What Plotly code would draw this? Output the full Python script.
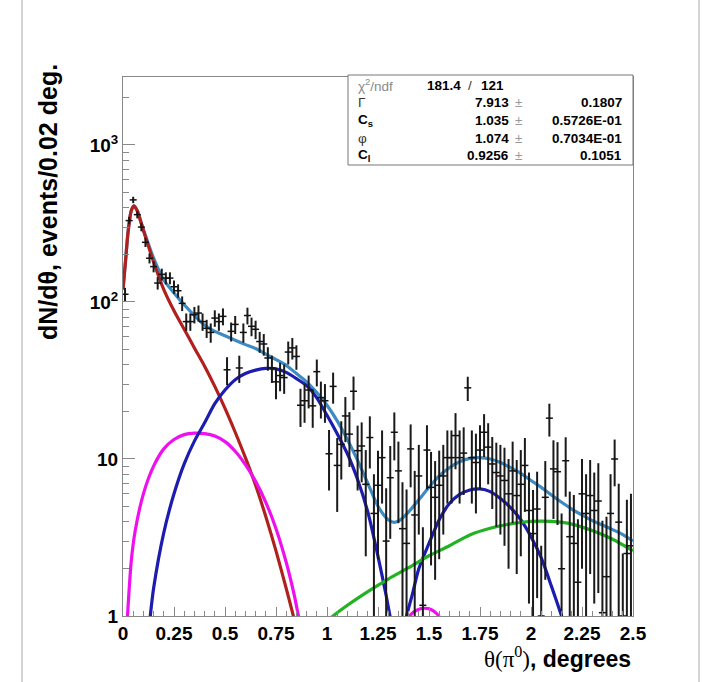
import plotly.graph_objects as go

# ---------------- data ----------------
bin_width = 0.02
bin_centers = [round(0.01 + bin_width * i, 2) for i in range(125)]

counts = [
    112, 330, 447, 360, 300, 240, 190, 168, 132, 150,
    142, 142, 125, 118, 98, 75, 75, 83, 85, 75,
    68, 64, 79, 75, 81, 37, 65, 72, 38, 64,
    82, 70, 67, 56, 54, 44, 38, 31, 34, 33,
    48, 51, 45, 22, 23.5, 27.5, 21.8, 36, 24.6, 23.5,
    10.8, 29, 9.1, 12.4, 18.8, 14.4, 27, 11.3, 12.1, 6.9,
    13.7, 4.5, 6.8, 10.2, 3.0, 7.6, 14.8, 8.4, 3.6, 2.9,
    11.6, 4.4, 7.8, 1.17, 11.4, 6.6, 5.7, 6.8, 7.8, 10.2,
    10.2, 14.1, 10.2, 10.9, 28.4, 10.2, 9.5, 11.4, 14.8, 11.9,
    9.3, 8.2, 7.8, 7.3, 6.0, 8.4, 5.85, 6.9, 9.1, 4.7,
    3.35, 4.8, 1.0, 5.7, 18.2, 8.65, 8.3, 2.0, 9.75, 3.2,
    2.9, 1.64, 6.0, 4.5, 5.85, 4.7, 5.4, 1.05, 1.78, 4.5,
    10.0, 3.96, 1.0, 2.5, 2.8,
]

errs = [
    11, 18, 21, 19, 18, 16, 14, 13.5, 12, 13,
    12.5, 12.5, 12, 11.5, 10.5, 9.5, 9.5, 10, 10, 9.5,
    9, 9, 9.5, 9.5, 10, 7.5, 9, 9.5, 7.5, 9,
    10, 9.5, 9, 8.5, 8.5, 7.5, 7.5, 7, 7, 7,
    8, 8, 8, 6, 6.5, 6.5, 6, 7, 6.5, 6.5,
    4.5, 6.5, 4.5, 5, 6, 5.5, 6.5, 5, 5, 4.5,
    5, 3.5, 4.5, 5, 3.5, 4.5, 5, 4.5, 3.5, 3.5,
    5, 4, 4.5, 2.5, 5, 4.5, 4, 4.5, 4.5, 5,
    5, 5.5, 5, 5, 5, 5, 5, 5, 4.5, 5,
    4.5, 4.5, 4.5, 4.5, 4, 4.5, 4, 4.5, 4.5, 3.5,
    3, 3.5, 1.8, 4, 4.3, 4.5, 4.5, 2.5, 4, 3,
    3, 2.5, 4, 3.5, 4, 3.5, 4, 3, 2.5, 3.5,
    3.3, 3, 1.5, 3, 3.2,
]

# total fit (light blue)
total_x = [0.0, 0.012, 0.025, 0.04, 0.054, 0.07, 0.1, 0.15, 0.2, 0.25, 0.3,
           0.35, 0.4, 0.45, 0.5, 0.55, 0.6, 0.65, 0.7, 0.75, 0.8, 0.85, 0.9,
           0.95, 1.0, 1.05, 1.1, 1.15, 1.2, 1.25, 1.3, 1.33, 1.36, 1.4, 1.45,
           1.5, 1.55, 1.6, 1.65, 1.7, 1.75, 1.8, 1.85, 1.9, 1.95, 2.0, 2.05,
           2.1, 2.15, 2.2, 2.25, 2.3, 2.35, 2.4, 2.45, 2.5]
total_y = [120, 180, 280, 380, 410, 382, 290, 190, 138, 114, 96,
           82, 71, 65, 61, 57, 53.5, 50.5, 46.5, 43, 39.5, 35, 31,
           26.5, 22, 17.5, 13.3, 9.8, 7.0, 5.0, 4.1, 3.95, 4.1, 4.6, 5.5,
           6.6, 7.8, 8.8, 9.6, 10.1, 10.2, 10.0, 9.5, 8.8, 8.1, 7.3, 6.6,
           5.9, 5.3, 4.8, 4.4, 4.05, 3.8, 3.55, 3.3, 3.0]

# Coulomb / Primakoff-like component (red)
red_x = [0.0, 0.012, 0.025, 0.04, 0.054, 0.07, 0.1, 0.15, 0.2, 0.25, 0.3,
         0.35, 0.4, 0.45, 0.5, 0.55, 0.6, 0.65, 0.7, 0.75, 0.8, 0.835, 0.86]
red_y = [120, 180, 280, 380, 410, 380, 285, 180, 120, 88, 67,
         51, 39, 29, 21, 14.8, 10.2, 6.8, 4.3, 2.6, 1.5, 1.0, 0.72]

# interference component (magenta)
mag_x = [0.02, 0.04, 0.06, 0.1, 0.15, 0.2, 0.25, 0.3, 0.35, 0.4, 0.45, 0.5,
         0.55, 0.6, 0.65, 0.7, 0.75, 0.8, 0.84, 0.86, 0.875, None,
         1.39, 1.41, 1.44, 1.475, 1.51, 1.54, 1.565]
mag_y = [0.9, 2.2, 3.5, 6.0, 9.0, 11.6, 13.3, 14.3, 14.6, 14.5, 14.0, 12.9,
         11.2, 9.2, 7.2, 5.3, 3.6, 2.2, 1.35, 1.0, 0.8, None,
         0.9, 1.02, 1.09, 1.12, 1.1, 1.03, 0.92]

# nuclear coherent component (dark blue)
blue_x = [0.13, 0.15, 0.2, 0.25, 0.3, 0.35, 0.4, 0.45, 0.5, 0.55, 0.6, 0.65,
          0.7, 0.75, 0.8, 0.85, 0.9, 0.95, 1.0, 1.05, 1.1, 1.15, 1.2, 1.25,
          1.29, 1.31, 1.33, None, 1.37, 1.39, 1.42, 1.45, 1.5, 1.55, 1.6,
          1.65, 1.7, 1.75, 1.8, 1.85, 1.9, 1.95, 2.0, 2.05, 2.1, 2.15, 2.18]
blue_y = [0.9, 1.5, 3.4, 6.0, 9.3, 13.0, 17.0, 22.5, 27.5, 32, 35, 36.8,
          37.8, 37.5, 35.6, 32.5, 29.3, 24.5, 19.0, 14.5, 10.8, 7.4, 4.6, 2.4,
          1.35, 0.98, 0.7, None, 0.75, 1.0, 1.4, 2.0, 2.9, 4.1, 5.2,
          5.95, 6.35, 6.45, 6.2, 5.6, 4.9, 4.1, 3.2, 2.35, 1.55, 1.0, 0.75]

# incoherent component (green)
green_x = [1.0, 1.03, 1.1, 1.2, 1.3, 1.4, 1.5, 1.6, 1.7, 1.8, 1.9, 2.0, 2.1,
           2.2, 2.3, 2.4, 2.5]
green_y = [0.92, 1.0, 1.17, 1.43, 1.72, 2.03, 2.42, 2.8, 3.28, 3.62, 3.86,
           4.0, 4.0, 3.85, 3.5, 3.08, 2.6]

x_tickvals = [0, 0.25, 0.5, 0.75, 1, 1.25, 1.5, 1.75, 2, 2.25, 2.5]
x_ticktext = ["0", "0.25", "0.5", "0.75", "1", "1.25", "1.5", "1.75", "2", "2.25", "2.5"]
y_tickvals = [1, 10, 100, 1000]
y_ticktext = ["1", "10", "10<sup>2</sup>", "10<sup>3</sup>"]
y_minor = [m * d for d in (1, 10, 100, 1000) for m in (2, 3, 4, 5, 6, 7, 8, 9)]

stats_rows = [
    ("Γ", "7.913", "0.1807", False),
    ("C<sub>s</sub>", "1.035", "0.5726E-01", True),
    ("φ", "1.074", "0.7034E-01", False),
    ("C<sub>l</sub>", "0.9256", "0.1051", True),
]

# ---------------- layout geometry ----------------
W, H = 705, 682
L, R, T, B = 123, 72, 77, 66
PW, PH = W - L - R, H - T - B


def px(p):
    return (p - L) / PW


def py(p):
    return (H - B - p) / PH


err_minus = [min(e, 0.995 * v) for e, v in zip(errs, counts)]

fig = go.Figure()

curve_w = 3.2
spl = dict(shape="spline", smoothing=0.7)
fig.add_trace(go.Scatter(x=total_x, y=total_y, mode="lines",
                         line=dict(color="#3d8bc2", width=curve_w, **spl), hoverinfo="skip"))
fig.add_trace(go.Scatter(x=red_x, y=red_y, mode="lines",
                         line=dict(color="#b0201e", width=curve_w, **spl), hoverinfo="skip"))
fig.add_trace(go.Scatter(x=mag_x, y=mag_y, mode="lines", connectgaps=False,
                         line=dict(color="#ee10ee", width=curve_w, **spl), hoverinfo="skip"))
fig.add_trace(go.Scatter(x=blue_x, y=blue_y, mode="lines", connectgaps=False,
                         line=dict(color="#1c1cae", width=curve_w, **spl), hoverinfo="skip"))
fig.add_trace(go.Scatter(x=green_x, y=green_y, mode="lines",
                         line=dict(color="#22b222", width=curve_w, **spl), hoverinfo="skip"))

fig.add_trace(go.Scatter(
    x=bin_centers, y=counts, mode="markers",
    marker=dict(symbol="line-ew", size=5, color="#111", line=dict(width=1.5, color="#111")),
    error_y=dict(type="data", symmetric=False, array=errs, arrayminus=err_minus,
                 color="#1a1a1a", thickness=2, width=0),
))

axis_col = "#888888"
tick_font = dict(family="Liberation Sans, Arial, sans-serif", size=19, color="black", weight="bold")

fig.update_layout(
    width=W, height=H,
    margin=dict(l=L, r=R, t=T, b=B, pad=0),
    paper_bgcolor="white", plot_bgcolor="white",
    showlegend=False,
    xaxis=dict(range=[0, 2.5], showgrid=False, zeroline=False,
               showline=True, linecolor=axis_col, linewidth=1, mirror=True,
               ticks="inside", ticklen=9, tickcolor=axis_col, tickwidth=1,
               tickvals=x_tickvals, ticktext=x_ticktext, tickfont=tick_font,
               minor=dict(ticks="inside", ticklen=5, dtick=0.05, tick0=0,
                          tickcolor=axis_col, tickwidth=1, showgrid=False)),
    yaxis=dict(type="log", range=[0, 3.433], showgrid=False, zeroline=False,
               showline=True, linecolor=axis_col, linewidth=1, mirror=True,
               ticks="inside", ticklen=12, tickcolor=axis_col, tickwidth=1,
               tickvals=y_tickvals, ticktext=y_ticktext, tickfont=tick_font,
               minor=dict(ticks="inside", ticklen=6, tickmode="array", tickvals=y_minor,
                          tickcolor=axis_col, tickwidth=1, showgrid=False)),
)

annotations = []
# axis titles
annotations.append(dict(
    text="<b>dN/dθ, events/0.02 deg.</b>", textangle=-90,
    xref="paper", yref="paper", x=px(48), y=py(62), xanchor="center", yanchor="top",
    showarrow=False, font=dict(family="Liberation Sans, Arial, sans-serif", size=25, color="black")))
annotations.append(dict(
    text='<span style="font-family:Liberation Serif">θ(π<sup>0</sup>)</span><b>, degrees</b>',
    xref="paper", yref="paper", x=px(633), y=py(657), xanchor="right", yanchor="middle",
    showarrow=False, font=dict(family="Liberation Sans, Arial, sans-serif", size=23, color="black")))

# stats box
sfont = "Liberation Sans, Arial, sans-serif"
ssize = 13.5
row_y = [85, 103, 121, 138, 155]
annotations.append(dict(text="χ<sup>2</sup>/ndf", xref="paper", yref="paper",
                        x=px(356), y=py(row_y[0]), xanchor="left", yanchor="middle", showarrow=False,
                        font=dict(family=sfont, size=ssize, color="#8a8a8a")))
annotations.append(dict(text="<b>181.4</b>", xref="paper", yref="paper",
                        x=px(425), y=py(row_y[0]), xanchor="left", yanchor="middle", showarrow=False,
                        font=dict(family=sfont, size=ssize, color="black")))
annotations.append(dict(text="/", xref="paper", yref="paper",
                        x=px(470), y=py(row_y[0]), xanchor="center", yanchor="middle", showarrow=False,
                        font=dict(family=sfont, size=ssize, color="#333")))
annotations.append(dict(text="<b>121</b>", xref="paper", yref="paper",
                        x=px(479), y=py(row_y[0]), xanchor="left", yanchor="middle", showarrow=False,
                        font=dict(family=sfont, size=ssize, color="black")))
for (lab, val, err, bold), yy in zip(stats_rows, row_y[1:]):
    annotations.append(dict(text=("<b>%s</b>" % lab) if bold else lab, xref="paper", yref="paper",
                            x=px(356), y=py(yy), xanchor="left", yanchor="middle", showarrow=False,
                            font=dict(family=sfont, size=ssize, color="black" if bold else "#333")))
    annotations.append(dict(text="<b>%s</b>" % val, xref="paper", yref="paper",
                            x=px(511), y=py(yy), xanchor="right", yanchor="middle", showarrow=False,
                            font=dict(family=sfont, size=ssize, color="black")))
    annotations.append(dict(text="±", xref="paper", yref="paper",
                            x=px(518), y=py(yy), xanchor="center", yanchor="middle", showarrow=False,
                            font=dict(family=sfont, size=ssize, color="#999")))
    annotations.append(dict(text="<b>%s</b>" % err, xref="paper", yref="paper",
                            x=px(624), y=py(yy), xanchor="right", yanchor="middle", showarrow=False,
                            font=dict(family=sfont, size=ssize, color="black")))

fig.update_layout(annotations=annotations)

shapes = [
    dict(type="rect", xref="paper", yref="paper", x0=px(348), x1=px(633), y0=py(165), y1=py(75),
         line=dict(color="#777", width=1), fillcolor="white", layer="above"),
    dict(type="line", xref="paper", yref="paper", x0=px(22), x1=px(22), y0=py(0), y1=py(682),
         line=dict(color="#aaa", width=1)),
    dict(type="line", xref="paper", yref="paper", x0=px(699), x1=px(699), y0=py(0), y1=py(682),
         line=dict(color="#aaa", width=1)),
]
fig.update_layout(shapes=shapes)

fig.write_html("out.html", config={"displayModeBar": False},
               post_script="document.body.style.margin='0px';")
